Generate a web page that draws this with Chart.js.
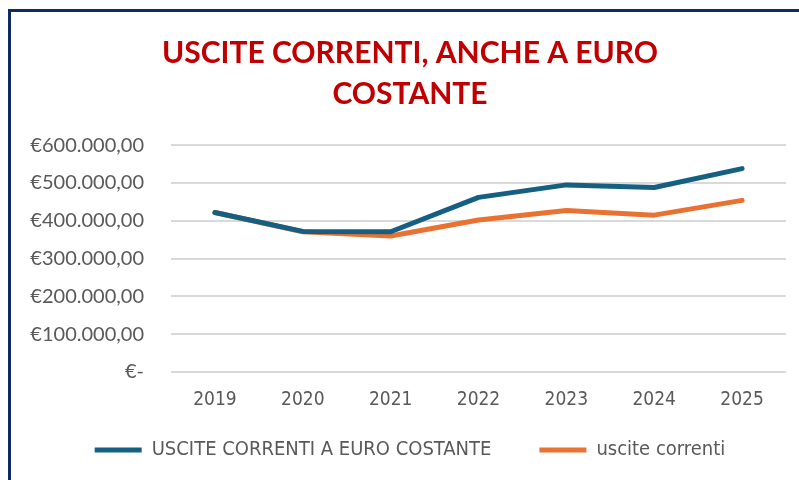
<!DOCTYPE html>
<html>
<head>
<meta charset="utf-8">
<script src="https://cdn.jsdelivr.net/npm/chart.js@4.4.1/dist/chart.umd.min.js"></script>
<style>
  html, body { margin: 0; padding: 0; background: #fff; overflow: hidden; }
  #frame { position: absolute; left: 8px; top: 9px; width: 820px; height: 500px;
           border-left: 3px solid #0F2A63; border-top: 3px solid #0F2A63; box-sizing: border-box; }
  #wrap { position: absolute; left: 0; top: 0; width: 799px; height: 480px; }
</style>
</head>
<body>
<div id="frame"></div>
<div id="wrap"><canvas id="c" width="799" height="480"></canvas></div>
<script>
const titleLines = ['USCITE CORRENTI, ANCHE A EURO', 'COSTANTE'];
const categories = ['2019', '2020', '2021', '2022', '2023', '2024', '2025'];
const seriesNames = ['USCITE CORRENTI A EURO COSTANTE', 'uscite correnti'];
const costantValues = [422000, 372000, 371000, 462000, 495000, 488000, 538000];
const correntiValues = [422000, 371000, 360000, 402000, 427000, 415000, 454000];
const yTickLabels = ['€-', '€100.000,00', '€200.000,00', '€300.000,00', '€400.000,00', '€500.000,00', '€600.000,00'];

const narrow = "'Liberation Sans Narrow', 'DejaVu Sans Condensed', 'Liberation Sans', sans-serif";
const noLabelClip = (s) => { s._computeLabelArea = () => undefined; };

new Chart(document.getElementById('c'), {
  type: 'line',
  data: {
    labels: categories,
    datasets: [
      { label: seriesNames[0], data: costantValues, borderColor: '#156082', backgroundColor: '#156082',
        borderWidth: 5, pointRadius: 0, tension: 0, borderCapStyle: 'round', borderJoinStyle: 'round' },
      { label: seriesNames[1], data: correntiValues, borderColor: '#E97132', backgroundColor: '#E97132',
        borderWidth: 5, pointRadius: 0, tension: 0, borderCapStyle: 'round', borderJoinStyle: 'round' }
    ]
  },
  options: {
    responsive: false,
    animation: false,
    layout: { padding: { left: 34, right: 13, top: 10, bottom: 10 } },
    plugins: {
      title: {
        display: true, text: titleLines, color: '#C00000',
        font: { family: 'Lato', weight: 'bold', size: 30, lineHeight: 1.37 },
        padding: { top: 23, bottom: 30 }
      },
      legend: {
        position: 'bottom',
        labels: {
          usePointStyle: true, pointStyle: 'line', pointStyleWidth: 47,
          color: '#595959', padding: 48,
          font: { family: narrow, size: 20 }
        }
      },
      tooltip: { enabled: false }
    },
    scales: {
      x: {
        offset: true,
        afterFit: (s) => { s.height = 20; noLabelClip(s); },
        grid: { display: false, drawTicks: false },
        border: { display: false },
        ticks: { color: '#595959', font: { family: narrow, size: 19 }, padding: 17 }
      },
      y: {
        min: 0, max: 600000,
        afterFit: (s) => { s.width = 137; noLabelClip(s); },
        grid: { color: '#D9D9D9', lineWidth: 2, drawTicks: false },
        border: { display: false },
        ticks: {
          stepSize: 100000, color: '#595959', padding: 27,
          font: { family: 'Lato', size: 20 },
          callback: (v, i) => yTickLabels[i]
        }
      }
    }
  }
});
</script>
</body>
</html>
